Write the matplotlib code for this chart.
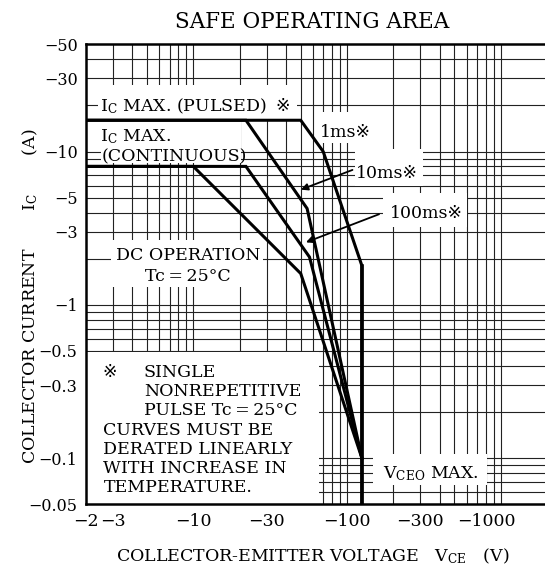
import matplotlib
matplotlib.use('Agg')
import matplotlib.pyplot as plt
import matplotlib.transforms as mtransforms
from matplotlib.patches import Rectangle
import numpy as np

plt.rcParams['font.family'] = ['DejaVu Serif', 'DejaVu Sans', 'Noto Sans CJK JP']
plt.rcParams['mathtext.fontset'] = 'custom'
plt.rcParams['mathtext.rm'] = 'DejaVu Serif'
plt.rcParams['mathtext.it'] = 'DejaVu Serif:italic'

# SOA curves (|VCE| in V, |IC| in A)
dc_v = [2, 10, 50, 125]
dc_i = [8, 8, 1.6, 0.1]
ms100_v = [2, 22, 57, 125]
ms100_i = [8, 8, 2.05, 0.1]
ms10_v = [2, 22, 55, 125]
ms10_i = [16, 16, 4.25, 0.1]
ms1_v = [2, 50, 70, 125, 125]
ms1_i = [16, 16, 10, 1.8, 0.05]
vceo_max = 125

x_ticks = [2, 3, 10, 30, 100, 300, 1000]
x_labels = ['\u22122', '\u22123', '\u221210', '\u221230', '\u2212100', '\u2212300', '\u22121000']
y_ticks = [0.05, 0.1, 0.3, 0.5, 1, 3, 5, 10, 30, 50]
y_labels = ['\u22120.05', '\u22120.1', '\u22120.3', '\u22120.5', '\u22121', '\u22123', '\u22125',
            '\u221210', '\u221230', '\u221250']

tc_text = 'Tc\u2009=\u200925\u00b0C'
note_lines = [
    (0.126, 'SINGLE'),
    (0.126, 'NONREPETITIVE'),
    (0.126, 'PULSE ' + tc_text),
    (0.038, 'CURVES MUST BE'),
    (0.038, 'DERATED LINEARLY'),
    (0.038, 'WITH INCREASE IN'),
    (0.038, 'TEMPERATURE.'),
]

fig = plt.figure(figsize=(5.45, 5.67), dpi=100)
ax = fig.add_axes([0.1576, 0.1106, 0.846, 0.8111])
ax.set_xscale('log')
ax.set_yscale('log')
ax.set_xlim(2, 2000)
ax.set_ylim(0.05, 50)

# log paper grid
for e in range(0, 4):
    for m in range(1, 10):
        v = m * 10 ** e
        if 2 < v < 2000:
            ax.axvline(v, color='#222222', lw=0.8, zorder=1)
for e in range(-2, 2):
    for m in range(1, 10):
        v = m * 10.0 ** e
        if 0.05 < v < 50:
            ax.axhline(v, color='#222222', lw=0.8, zorder=1)

# white label areas (blank out grid)
boxes = [
    (2.4, 47, 16.2, 27),      # IC MAX pulsed
    (2, 20.5, 10.9, 15.9),    # IC MAX
    (2.5, 20.5, 8.4, 10.9),   # (CONTINUOUS)
    (64.7, 145, 11.4, 18.1),  # 1ms
    (112, 312, 5.96, 10.4),   # 10ms
    (171, 604, 3.22, 5.37),   # 100ms
    (2.9, 28.4, 1.31, 2.65),  # DC operation
    (2, 66, 0.05, 0.49),      # note
    (147, 815, 0.067, 0.106), # VCEO max
]
for x0, x1, y0, y1 in boxes:
    ax.add_patch(Rectangle((x0, y0), x1 - x0, y1 - y0, fc='white', ec='none', zorder=2))

for v, i in [(dc_v, dc_i), (ms100_v, ms100_i), (ms10_v, ms10_i), (ms1_v, ms1_i)]:
    ax.plot(v, i, color='black', lw=2.2, zorder=4, solid_joinstyle='miter')
ax.plot([vceo_max, vceo_max], [0.05, 1.8], color='black', lw=2.6, zorder=4)

fs = 12.5
t = ax.text(2.47, 20.4, r'$\mathrm{I_C}$ MAX. (PULSED)', fontsize=fs, va='center_baseline', zorder=5)
ax.annotate('\u203b', xy=(1, 0.5), xycoords=t, xytext=(6, 0), textcoords='offset points',
            fontsize=fs, va='center', zorder=5)
ax.text(2.47, 13.0, r'$\mathrm{I_C}$ MAX.', fontsize=fs, va='center_baseline', zorder=5)
ax.text(2.53, 9.5, '(CONTINUOUS)', fontsize=fs, va='center_baseline', zorder=5)
ax.text(97, 13.8, '1ms\u203b', fontsize=fs, ha='center', va='center_baseline', zorder=5)
ax.text(182, 7.41, '10ms\u203b', fontsize=fs, ha='center', va='center_baseline', zorder=5)
ax.text(330, 4.05, '100ms\u203b', fontsize=fs, ha='center', va='center_baseline', zorder=5)
ax.text(9.2, 2.16, 'DC OPERATION', fontsize=fs, ha='center', va='center_baseline', zorder=5)
ax.text(9.2, 1.57, tc_text, fontsize=fs, ha='center', va='center_baseline', zorder=5)
ax.text(352, 0.0816, r'$\mathrm{V_{CEO}}$ MAX.', fontsize=fs, ha='center', va='center_baseline', zorder=5)

ax.annotate('', xy=(48.2, 5.56), xytext=(112.8, 7.7),
            arrowprops=dict(arrowstyle='-|>', lw=1.3, color='black', mutation_scale=10), zorder=5)
ax.annotate('', xy=(52, 2.52), xytext=(168, 3.96),
            arrowprops=dict(arrowstyle='-|>', lw=1.3, color='black', mutation_scale=10), zorder=5)

# note block
ax.text(0.036, 0.2909, '\u203b', transform=ax.transAxes, fontsize=fs, va='center_baseline', zorder=5)
for k, (xf, line) in enumerate(note_lines):
    ax.text(xf, 0.2909 - k * 0.04175, line, transform=ax.transAxes, fontsize=fs,
            va='center_baseline', zorder=5)

ax.set_xticks(x_ticks)
ax.set_xticklabels(x_labels)
ax.set_yticks(y_ticks)
ax.set_yticklabels(y_labels)
ax.minorticks_off()
ax.tick_params(length=0)
ax.tick_params(axis='y', pad=6, labelsize=11.5)
ax.tick_params(axis='x', pad=6, labelsize=12.5)
# last x label sits left of its line, as in the datasheet
last = ax.get_xticklabels()[-1]
last.set_transform(last.get_transform() + mtransforms.ScaledTranslation(-14 / 100, 0, fig.dpi_scale_trans))

for s in ['left', 'top', 'bottom']:
    ax.spines[s].set_linewidth(1.8)
    ax.spines[s].set_zorder(6)
ax.spines['right'].set_visible(False)

fig.text(312 / 545, 1 - 22 / 567, 'SAFE OPERATING AREA', fontsize=15.5, ha='center', va='center')
fig.text(313 / 545, 1 - 556 / 567, r'COLLECTOR-EMITTER VOLTAGE   $\mathrm{V_{CE}}$   (V)',
         fontsize=12.5, ha='center', va='center')
fig.text(30 / 545, 1 - 296 / 567, r'COLLECTOR CURRENT       $\mathrm{I_C}$       (A)',
         fontsize=12.5, ha='center', va='center', rotation=90)

fig.savefig('out.png', dpi=100)
